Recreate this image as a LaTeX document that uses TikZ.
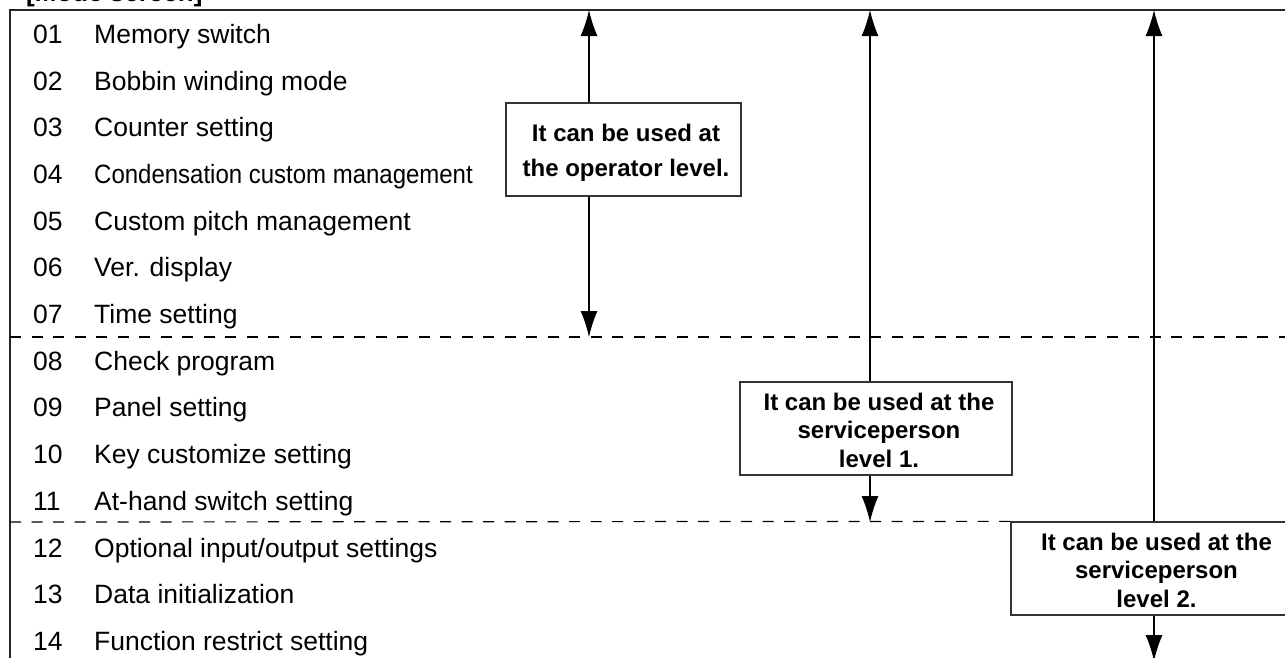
\documentclass[tikz,border=0pt]{standalone}
\usepackage{fontspec}
\setmainfont{Liberation Sans}
\usepackage{graphicx}
\usetikzlibrary{arrows.meta}
\begin{document}
\begin{tikzpicture}[x=1pt,y=-1pt,
  num/.style={anchor=base west, inner sep=0pt, font=\fontsize{26.5}{30}\selectfont},
  item/.style={anchor=base west, inner sep=0pt, font=\fontsize{26.5}{30}\selectfont},
  frameline/.style={line width=1.5pt, black!85},
  boxframe/.style={draw=black!80, line width=1.3pt, fill=white, inner sep=0pt},
  boxtext/.style={inner sep=0pt, align=center},
  optxt/.style={boxtext, font=\bfseries\fontsize{24}{35}\selectfont},
  svtxt/.style={boxtext, font=\bfseries\fontsize{24}{28.5}\selectfont},
  arr/.style={line width=1.2pt, -{Latex[length=26pt,width=17pt]}},
  levelline/.style={line width=1.2pt, dash pattern=on 11pt off 10.5pt}
]
\useasboundingbox (0,0) rectangle (1285,657);
\clip (0,0) rectangle (1285,657);

% title (cut off at the top)
\node[anchor=base west, inner sep=0pt, font=\bfseries\fontsize{26}{30}\selectfont] (title) at (26,1.5) {[Mode screen]};

% frame
\coordinate (fbl) at (10,660);
\coordinate (ftl) at (10,10);
\coordinate (ftr) at (1290,10);
\draw[frameline] (fbl) -- (ftl) -- (ftr);

% level separators
\coordinate (l1a) at (10,337);
\coordinate (l1b) at (1285,337);
\draw[levelline] (l1a) -- (l1b);

% list
\foreach \i/\t in {1/{Memory switch},2/{Bobbin winding mode},3/{Counter setting},
  5/{Custom pitch management},6/{Ver. display},7/{Time setting},8/{Check program},
  9/{Panel setting},10/{Key customize setting},11/{At-hand switch setting},
  12/{Optional input/output settings},13/{Data initialization},14/{Function restrict setting}}{
  \pgfmathsetmacro{\yb}{43.3+(\i-1)*46.7}
  \node[num] (n\i) at (33,\yb) {\ifnum\i<10 0\fi\i};
  \node[item] (t\i) at (94,\yb) {\t};
}
\pgfmathsetmacro{\ybf}{43.3+3*46.7}
\node[num] (n4) at (33,\ybf) {04};
\node[item] (t4) at (94,\ybf) {\scalebox{0.905}[1]{Condensation custom management}};

% boxes
\node[boxframe, minimum width=235pt, minimum height=93pt] (op) at (623.5,149.5) {};
\node[optxt] (optext) at (626,152.5) {It can be used at\\the operator level.};

\node[boxframe, minimum width=272pt, minimum height=93pt] (s1) at (876,428.5) {};
\node[svtxt] (s1text) at (879,430) {It can be used at the\\serviceperson\\level 1.};

\node[boxframe, minimum width=290pt, minimum height=93pt] (s2) at (1156,568.5) {};
\node[svtxt] (s2text) at (1156.5,570) {It can be used at the\\serviceperson\\level 2.};

% second separator ends at the level-2 box
\coordinate (l2a) at (10,522);
\draw[levelline] (l2a) -- (s2.north west);

% arrows
\coordinate (u1) at (589,10);
\coordinate (d1) at (589,337);
\coordinate (u2) at (870,10);
\coordinate (d2) at (870,522);
\coordinate (u3) at (1154,10);
\coordinate (d3) at (1154,661);
\draw[arr] (op.north -| u1) -- (u1);
\draw[arr] (op.south -| u1) -- (d1);
\draw[arr] (s1.north -| u2) -- (u2);
\draw[arr] (s1.south -| u2) -- (d2);
\draw[arr] (s2.north -| u3) -- (u3);
\draw[arr] (s2.south -| u3) -- (d3);
\end{tikzpicture}
\end{document}
